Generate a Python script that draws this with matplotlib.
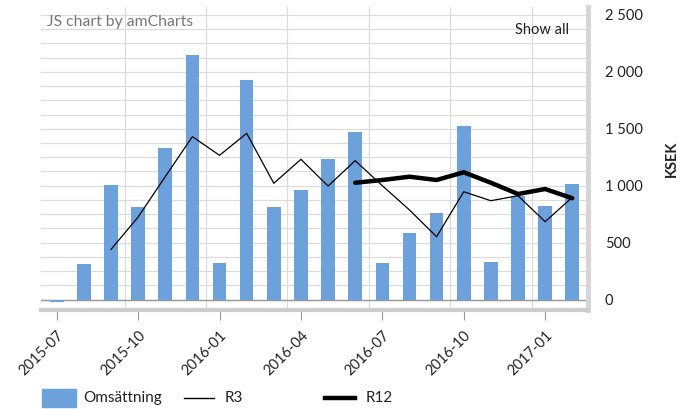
import matplotlib
matplotlib.use("Agg")
import matplotlib.pyplot as plt
from matplotlib.ticker import FuncFormatter
from matplotlib.patches import Rectangle
from matplotlib.lines import Line2D
import numpy as np

plt.rcParams['font.family'] = ['Lato', 'DejaVu Sans']

months = ["2015-07", "2015-08", "2015-09", "2015-10", "2015-11", "2015-12",
          "2016-01", "2016-02", "2016-03", "2016-04", "2016-05", "2016-06",
          "2016-07", "2016-08", "2016-09", "2016-10", "2016-11", "2016-12",
          "2017-01", "2017-02"]
omsattning = [-20, 310, 1010, 810, 1335, 2148, 321, 1926, 810, 960,
              1235, 1470, 321, 582, 760, 1522, 332, 912, 822, 1012]
r3 = [None, None, 440, 725, 1080, 1431, 1267, 1460, 1021, 1232,
      997, 1220, 1000, 787, 552, 947, 868, 912, 684, 898]
r12 = [None] * 11 + [1026, 1050, 1079, 1050, 1118, 1026, 927, 971, 890]
tick_labels = ["2015-07", "2015-10", "2016-01", "2016-04", "2016-07", "2016-10", "2017-01"]

BAR = '#6ca1db'
GRID = '#dcdcdc'
TXT = '#222222'

fig = plt.figure(figsize=(6.91, 4.09), dpi=100)
ax = fig.add_axes([41/691, 1-310/409, (588-41)/691, (310-7)/409])

x = np.arange(len(months))
ax.bar(x, omsattning, width=0.5, color=BAR, zorder=2)

r3_x = [i for i, v in enumerate(r3) if v is not None]
r3_y = [v for v in r3 if v is not None]
ax.plot(r3_x, r3_y, color='black', lw=0.9, zorder=3)
r12_x = [i for i, v in enumerate(r12) if v is not None]
r12_y = [v for v in r12 if v is not None]
ax.plot(r12_x, r12_y, color='black', lw=3.2, zorder=4, solid_capstyle='round')

ax.set_xlim(-0.58, 19.58)
ax.set_ylim(-92, 2570)

# grids
for yv in np.arange(0, 2600, 125):
    ax.axhline(yv, color=GRID, lw=0.9, zorder=0)
ax.axhline(0, color='#999999', lw=1.0, zorder=1)
for xv in [2.5, 5.5, 8.5, 11.5, 14.5, 17.5]:
    ax.axvline(xv, color=GRID, lw=0.9, zorder=0)

# y axis on right
ax.yaxis.tick_right()
ax.yaxis.set_label_position('right')
ax.set_yticks([0, 500, 1000, 1500, 2000, 2500])
ax.yaxis.set_major_formatter(FuncFormatter(lambda v, p: f"{int(v):,}".replace(',', ' ')))
ax.tick_params(axis='y', length=0, pad=12, labelsize=10.5, labelcolor=TXT)
ax.set_ylabel("KSEK", fontsize=10.5, fontweight='bold', color=TXT, labelpad=16)

ax.set_xticks([months.index(m) for m in tick_labels])
ax.set_xticklabels(tick_labels, rotation=45, ha='right', va='top',
                   rotation_mode='anchor', fontsize=10.5, color=TXT)
ax.tick_params(axis='x', length=7, color='#999999', pad=6)

for s in ['top', 'left']:
    ax.spines[s].set_visible(False)
ax.spines['bottom'].set_color('#cccccc')
ax.spines['bottom'].set_linewidth(3)
ax.spines['right'].set_color('#d5d5d5')
ax.spines['right'].set_linewidth(3.5)

ax.text(0.011, 0.975, "JS chart by amCharts", transform=ax.transAxes,
        fontsize=11.3, color='#777777', ha='left', va='top')
ax.text(0.966, 0.948, "Show all", transform=ax.transAxes,
        fontsize=10.5, color='#222222', ha='right', va='top')

# legend
ly = 1 - 398/409
fig.patches.append(Rectangle((42/691, 1-407/409), 34/691, 18/409,
                             transform=fig.transFigure, color=BAR))
fig.text(83/691, ly, "Omsättning", fontsize=11, color=TXT, va='center')
fig.lines.append(Line2D([184/691, 214/691], [ly]*2, transform=fig.transFigure,
                        color='black', lw=1))
fig.text(225/691, ly, "R3", fontsize=11, color=TXT, va='center')
fig.lines.append(Line2D([325/691, 355/691], [ly]*2, transform=fig.transFigure,
                        color='black', lw=3.2))
fig.text(366/691, ly, "R12", fontsize=11, color=TXT, va='center')

fig.savefig("out.png", dpi=100)
